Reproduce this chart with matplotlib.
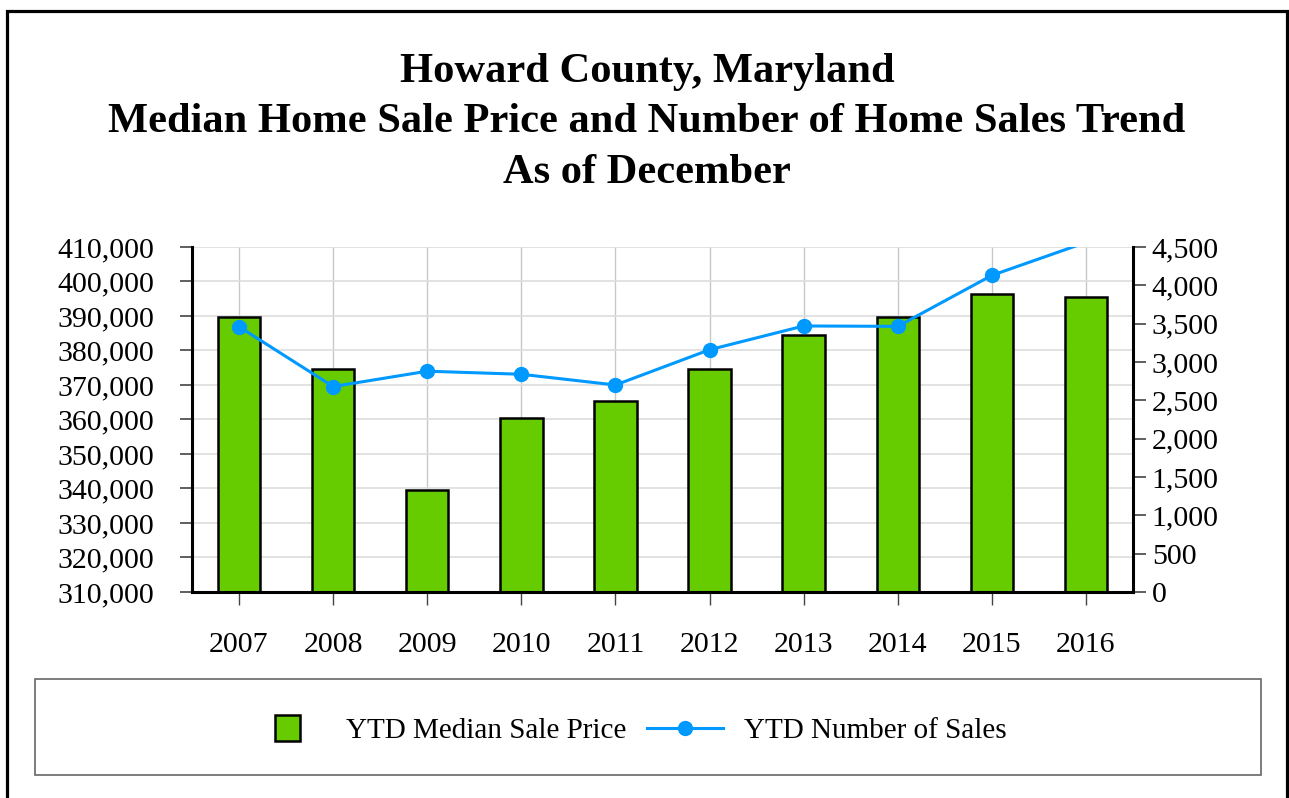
import matplotlib
matplotlib.use("Agg")
import numpy as np
import matplotlib.pyplot as plt
from matplotlib.patches import Rectangle
from matplotlib.lines import Line2D
from matplotlib.legend_handler import HandlerPatch
from matplotlib.ticker import FuncFormatter, MultipleLocator

years = ["2007", "2008", "2009", "2010", "2011", "2012", "2013", "2014", "2015", "2016"]
median_price = [389600, 374700, 339700, 360400, 365400, 374600, 384600, 389600, 396400, 395600]
num_sales = [3460, 2680, 2880, 2840, 2700, 3160, 3470, 3465, 4130, 4560]

title_lines = ["Howard County, Maryland",
               "Median Home Sale Price and Number of Home Sales Trend",
               "As of December"]
bar_label = "YTD Median Sale Price"
line_label = "YTD Number of Sales"

GREEN = "#66cc00"
BLUE = "#0099ff"
W, H = 1289, 798
SALES_MAX = 4500

plt.rcParams["font.family"] = ["Liberation Serif", "DejaVu Serif"]

fig = plt.figure(figsize=(W / 100, H / 100), dpi=100)
fig.patch.set_facecolor("white")

# outer frame
fig.patches.append(Rectangle((7 / W, -0.05), (1287 - 7) / W, 1 - 11 / H + 0.05,
                             transform=fig.transFigure, fill=False,
                             edgecolor="black", linewidth=2.3, zorder=0))

# title
for txt, yp in zip(title_lines, [72, 122, 173]):
    fig.text(647 / W, 1 - yp / H, txt, ha="center", va="center",
             fontsize=30.6, fontweight="bold")

ax = fig.add_axes([192 / W, 1 - 592 / H, (1133 - 192) / W, (592 - 247) / H])
x = np.arange(len(years))
ax.bar(x, median_price, width=0.45, color=GREEN, edgecolor="black",
       linewidth=1.8, zorder=2)
ax.set_xlim(-0.5, len(years) - 0.5)
ax.set_ylim(310000, 410000)
ax.yaxis.set_major_locator(MultipleLocator(10000))
ax.yaxis.set_major_formatter(FuncFormatter(lambda v, p: f"{int(v):,}"))
ax.set_xticks(x)
ax.set_xticklabels(years)
ax.set_axisbelow(True)
ax.grid(axis="y", color="#dddddd", linewidth=1.2)
ax.grid(axis="x", color="#c8c8c8", linewidth=1.0)
for s in ["top", "right"]:
    ax.spines[s].set_visible(False)
ax.spines["left"].set_linewidth(2.2)
ax.spines["bottom"].set_linewidth(2.2)
ax.tick_params(axis="y", direction="out", length=9, width=1.2, color="#444444",
               labelsize=21.5, pad=18)
ax.tick_params(axis="x", direction="out", length=9.5, width=1.0, color="#444444",
               labelsize=21.5, pad=19)

ax2 = ax.twinx()
ax2.plot(x, num_sales, color=BLUE, linewidth=2.2, zorder=3)
# markers only for points inside the visible range (as in the reference)
marker_vals = np.ma.masked_greater(np.array(num_sales, dtype=float), SALES_MAX)
ax2.plot(x, marker_vals, linestyle="none", color=BLUE, marker="o",
         markersize=10, zorder=4)
ax2.set_ylim(0, SALES_MAX)
ax2.yaxis.set_major_locator(MultipleLocator(500))
ax2.yaxis.set_major_formatter(FuncFormatter(lambda v, p: f"{int(v):,}"))
for s in ["top", "left", "bottom"]:
    ax2.spines[s].set_visible(False)
ax2.spines["right"].set_linewidth(2.2)
ax2.tick_params(axis="y", direction="out", length=9.5, width=1.2, color="#444444",
                labelsize=21.5, pad=4)

# legend frame
fig.patches.append(Rectangle((35 / W, 1 - 775 / H), (1261 - 35) / W, (775 - 679) / H,
                             transform=fig.transFigure, fill=False,
                             edgecolor="#666666", linewidth=1.2, zorder=1))


def square_patch(legend, orig_handle, xdescent, ydescent, width, height, fontsize):
    w = 25 / 100 * 72
    h = 1.3 * height
    return Rectangle((-xdescent + (width - w) / 2, -ydescent + (height - h) / 2), w, h)


bar_handle = Rectangle((0, 0), 1, 1, facecolor=GREEN, edgecolor="black", linewidth=1.8)
line_handle = Line2D([], [], color=BLUE, linewidth=2.2, marker="o", markersize=10)
leg = fig.legend([bar_handle, line_handle], [bar_label, line_label],
                 loc="center", bbox_to_anchor=(628 / W, 1 - 731 / H), ncol=2,
                 frameon=False, fontsize=21, handlelength=2.6,
                 handletextpad=0.7, columnspacing=0.72,
                 handler_map={Rectangle: HandlerPatch(patch_func=square_patch)})

fig.savefig("out.png", dpi=100)
